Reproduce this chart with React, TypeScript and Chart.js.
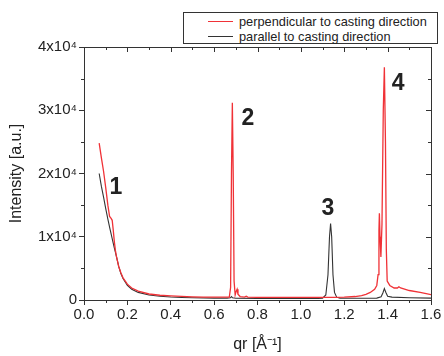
import React, { useEffect, useRef } from "react";
import { Chart, registerables } from "chart.js";

Chart.register(...registerables);

// Perpendicular to casting direction (red)
const qPerp = [
  0.07, 0.08, 0.09, 0.1, 0.11, 0.118, 0.125, 0.13, 0.135, 0.14, 0.145, 0.15, 0.16, 0.17, 0.18, 0.2,
  0.22, 0.25, 0.3, 0.35, 0.4, 0.45, 0.5, 0.55, 0.6, 0.65, 0.67, 0.676, 0.68, 0.684, 0.688, 0.692,
  0.697, 0.702, 0.706, 0.71, 0.72, 0.74, 0.748, 0.755, 0.8, 0.9, 1.0, 1.1, 1.15, 1.2, 1.25, 1.28,
  1.3, 1.32, 1.34, 1.35, 1.356, 1.36, 1.362, 1.365, 1.369, 1.374, 1.38, 1.385, 1.39, 1.394, 1.398,
  1.41, 1.43, 1.445, 1.452, 1.46, 1.5, 1.55, 1.6,
];
const iPerp = [
  24800, 22500, 20400, 17800, 15000, 13200, 12900, 12600, 11000, 9200, 7800, 6800, 5300, 4300, 3500, 2500,
  1900, 1400, 950, 750, 650, 560, 500, 470, 450, 440, 450, 2000, 20000, 31200, 20000, 3000,
  800, 1400, 1700, 900, 550, 450, 600, 450, 420, 400, 400, 400, 420, 450, 550, 700,
  900, 1200, 1700, 2300, 4000, 11000, 13700, 10000, 6800, 12000, 30000, 36800, 25000, 8000, 3000,
  2300, 1900, 1900, 2100, 1900, 1500, 1200, 850,
];

// Parallel to casting direction (black)
const qPar = [
  0.07, 0.08, 0.09, 0.1, 0.11, 0.12, 0.13, 0.14, 0.15, 0.16, 0.17, 0.18, 0.2, 0.22, 0.25, 0.3,
  0.35, 0.4, 0.45, 0.5, 0.6, 0.66, 0.675, 0.68, 0.685, 0.7, 0.8, 0.9, 1.0, 1.08, 1.1, 1.115,
  1.125, 1.132, 1.137, 1.142, 1.148, 1.155, 1.165, 1.18, 1.25, 1.35, 1.37, 1.378, 1.385, 1.392,
  1.4, 1.42, 1.5, 1.6,
];
const iPar = [
  20000, 18000, 16300, 14500, 12800, 11200, 9700, 8200, 6800, 5300, 4200, 3400, 2300, 1700, 1200, 800,
  600, 480, 400, 350, 300, 290, 350, 550, 350, 280, 250, 240, 230, 240, 300, 800,
  4000, 10000, 12100, 10000, 4000, 1200, 450, 300, 270, 300, 500, 1100, 1800, 1200,
  600, 450, 350, 300,
];

const seriesNames = ["perpendicular to casting direction", "parallel to casting direction"];
const seriesColors = ["rgb(240,50,55)", "#333333"];

const yTickLabels = ["0", "1x10⁴", "2x10⁴", "3x10⁴", "4x10⁴"];
const xTickLabels = ["0.0", "0.2", "0.4", "0.6", "0.8", "1.0", "1.2", "1.4", "1.6"];

const peakNames = ["1", "2", "3", "4"];
const peakQ = [0.1475, 0.756, 1.125, 1.448];
const peakI = [17700, 28650, 14380, 34150];

const AXIS = "#333333";
const TEXT = "#222222";
const FONT = "Arial, 'Liberation Sans', sans-serif";

const framePlugin = {
  id: "frameTicks",
  afterDraw(chart: any) {
    const ctx = chart.ctx;
    const { left, right, top, bottom } = chart.chartArea;
    const xs = chart.scales.x;
    const ys = chart.scales.y;
    ctx.save();
    ctx.strokeStyle = AXIS;
    ctx.lineWidth = 1;
    ctx.beginPath();
    ctx.moveTo(left, top + 0.5);
    ctx.lineTo(right + 0.5, top + 0.5);
    ctx.lineTo(right + 0.5, bottom);
    for (let k = 0; k <= 16; k++) {
      const v = k / 10;
      const px = Math.round(xs.getPixelForValue(v)) + 0.5;
      const major = k % 2 === 0;
      if (!major) {
        ctx.moveTo(px, bottom);
        ctx.lineTo(px, bottom + 3);
      }
      ctx.moveTo(px, top);
      ctx.lineTo(px, top + (major ? 5 : 3));
    }
    for (let k = 0; k <= 8; k++) {
      const v = k * 5000;
      const py = Math.round(ys.getPixelForValue(v)) + 0.5;
      const major = k % 2 === 0;
      if (!major) {
        ctx.moveTo(left, py);
        ctx.lineTo(left - 3, py);
      }
      ctx.moveTo(right, py);
      ctx.lineTo(right - (major ? 5 : 3), py);
    }
    ctx.stroke();

    ctx.fillStyle = TEXT;
    ctx.font = `bold 23px ${FONT}`;
    ctx.textAlign = "center";
    ctx.textBaseline = "middle";
    for (let i = 0; i < peakNames.length; i++) {
      ctx.fillText(peakNames[i], xs.getPixelForValue(peakQ[i]), ys.getPixelForValue(peakI[i]));
    }
    ctx.restore();
  },
};

export default function App() {
  const canvasRef = useRef<HTMLCanvasElement>(null);

  useEffect(() => {
    const canvas = canvasRef.current;
    if (!canvas) return;
    const chart = new Chart(canvas, {
      type: "line",
      data: {
        datasets: [
          {
            label: seriesNames[0],
            data: qPerp.map((q, i) => ({ x: q, y: iPerp[i] })),
            borderColor: seriesColors[0],
            borderWidth: 1.3,
            pointRadius: 0,
            tension: 0,
          },
          {
            label: seriesNames[1],
            data: qPar.map((q, i) => ({ x: q, y: iPar[i] })),
            borderColor: seriesColors[1],
            borderWidth: 1.1,
            pointRadius: 0,
            tension: 0,
          },
        ],
      },
      options: {
        animation: false,
        responsive: false,
        maintainAspectRatio: false,
        layout: { padding: { top: 47, right: 13, left: 0, bottom: 0 } },
        plugins: { legend: { display: false }, tooltip: { enabled: false } },
        scales: {
          x: {
            type: "linear",
            min: 0,
            max: 1.6,
            afterFit: (s: any) => {
              s.height = 56;
            },
            afterBuildTicks: (s: any) => {
              s.ticks = xTickLabels.map((_, i) => ({ value: i * 0.2 }));
            },
            ticks: {
              callback: (_v: any, i: number) => xTickLabels[i],
              color: TEXT,
              font: { family: FONT, size: 15 },
              padding: 1,
              maxRotation: 0,
              autoSkip: false,
            },
            grid: {
              display: true,
              drawOnChartArea: false,
              drawTicks: true,
              tickLength: 5,
              color: AXIS,
            },
            border: { display: true, color: AXIS, width: 1 },
            title: {
              display: true,
              text: "qr [Å⁻¹]",
              color: TEXT,
              font: { family: FONT, size: 16 },
              padding: { top: 0, bottom: 2 },
            },
          },
          y: {
            type: "linear",
            min: 0,
            max: 40000,
            afterFit: (s: any) => {
              s.width = 84;
            },
            afterBuildTicks: (s: any) => {
              s.ticks = yTickLabels.map((_, i) => ({ value: i * 10000 }));
            },
            ticks: {
              callback: (_v: any, i: number) => yTickLabels[i],
              color: TEXT,
              font: { family: FONT, size: 15 },
              padding: 2,
              autoSkip: false,
            },
            grid: {
              display: true,
              drawOnChartArea: false,
              drawTicks: true,
              tickLength: 5,
              color: AXIS,
            },
            border: { display: true, color: AXIS, width: 1 },
            title: {
              display: true,
              text: "Intensity [a.u.]",
              color: TEXT,
              font: { family: FONT, size: 16 },
              padding: { top: 7, bottom: 0 },
            },
          },
        },
      },
      plugins: [framePlugin],
    });
    return () => chart.destroy();
  }, []);

  const legendRow = (i: number, top: number) => (
    <div style={{ position: "absolute", left: 0, top, height: 15, width: "100%" }}>
      <div
        style={{
          position: "absolute",
          left: 24,
          top: 7,
          width: 25,
          height: 0,
          borderTop: `1.3px solid ${seriesColors[i]}`,
        }}
      />
      <div
        style={{
          position: "absolute",
          left: 55,
          top: 0,
          lineHeight: "15px",
          fontSize: 12.8,
          fontFamily: FONT,
          color: TEXT,
          whiteSpace: "nowrap",
        }}
      >
        {seriesNames[i]}
      </div>
    </div>
  );

  return (
    <div style={{ position: "fixed", left: 0, top: 0, width: 444, height: 356, background: "#fff" }}>
      <canvas ref={canvasRef} width={444} height={356} style={{ display: "block" }} />
      <div
        style={{
          position: "absolute",
          left: 183,
          top: 12,
          width: 253,
          height: 30,
          border: `1px solid ${AXIS}`,
          background: "#fff",
        }}
      >
        {legendRow(0, 1)}
        {legendRow(1, 16)}
      </div>
    </div>
  );
}
